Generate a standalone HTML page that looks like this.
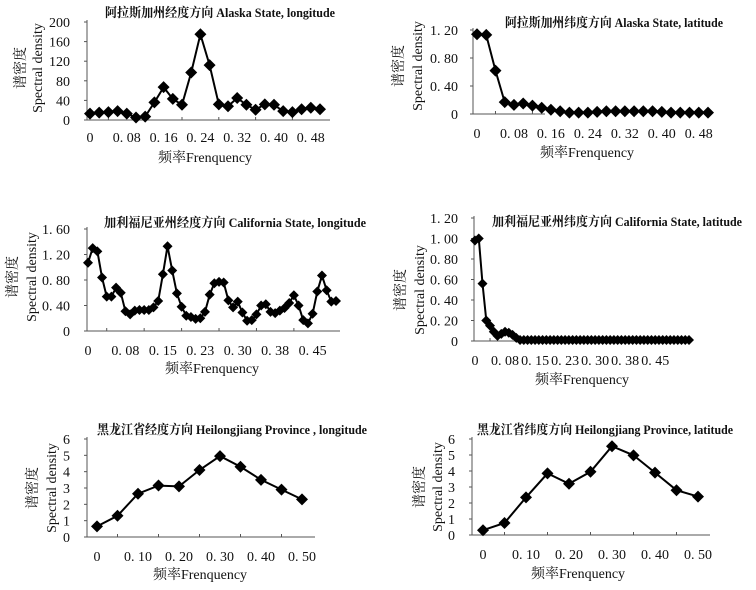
<!DOCTYPE html>
<html><head><meta charset="utf-8">
<style>
html,body{margin:0;padding:0;background:#fff;}
svg{display:block;}
text{fill:#111;}
.tk{font-family:"Liberation Serif","Noto Serif CJK SC",serif;font-size:14px;}
.tt{font-family:"Liberation Serif","Noto Serif CJK SC",serif;font-size:13px;font-weight:bold;}
.ax{font-family:"Liberation Serif","Noto Serif CJK SC",serif;font-size:14px;}
</style></head>
<body>
<svg id="chart" width="756" height="590" viewBox="0 0 756 590" xmlns="http://www.w3.org/2000/svg"></svg>
<script>
// ---- data ----
const alaskaLonValues = [13,15,16,18,13,5,7,36,67,43,31,97,175,112,32,28,45,31,21,32,31,18,16,22,25,22];
const alaskaLonXTicks = ["0","0. 08","0. 16","0. 24","0. 32","0. 40","0. 48"];
const alaskaLonYTicks = ["0","40","80","120","160","200"];

const alaskaLatValues = [1.14,1.13,0.62,0.17,0.13,0.15,0.12,0.09,0.06,0.04,0.02,0.02,0.02,0.03,0.04,0.04,0.04,0.04,0.04,0.04,0.03,0.02,0.02,0.02,0.02,0.02];
const alaskaLatXTicks = ["0","0. 08","0. 16","0. 24","0. 32","0. 40","0. 48"];
const alaskaLatYTicks = ["0","0. 40","0. 80","1. 20"];

const califLonValues = [1.07,1.30,1.25,0.84,0.54,0.54,0.68,0.60,0.31,0.26,0.32,0.33,0.33,0.33,0.37,0.47,0.89,1.33,0.95,0.59,0.38,0.24,0.22,0.19,0.20,0.30,0.57,0.75,0.77,0.76,0.48,0.37,0.46,0.29,0.16,0.17,0.26,0.40,0.42,0.30,0.28,0.32,0.36,0.44,0.56,0.40,0.17,0.12,0.27,0.62,0.87,0.64,0.46,0.47];
const califLonXTicks = ["0","0. 08","0. 15","0. 23","0. 30","0. 38","0. 45"];
const califLonYTicks = ["0","0. 40","0. 80","1. 20","1. 60"];

const califLatValues = [0.98,1.00,0.56,0.20,0.15,0.09,0.05,0.07,0.09,0.08,0.06,0.03,0.01,0.01,0.01,0.01,0.01,0.01,0.01,0.01,0.01,0.01,0.01,0.01,0.01,0.01,0.01,0.01,0.01,0.01,0.01,0.01,0.01,0.01,0.01,0.01,0.01,0.01,0.01,0.01,0.01,0.01,0.01,0.01,0.01,0.01,0.01,0.01,0.01,0.01,0.01,0.01,0.01,0.01,0.01,0.01,0.01,0.01];
const califLatXTicks = ["0","0. 08","0. 15","0. 23","0. 30","0. 38","0. 45"];
const califLatYTicks = ["0","0. 20","0. 40","0. 60","0. 80","1. 00","1. 20"];

const heiLonValues = [0.65,1.3,2.65,3.15,3.1,4.1,4.95,4.3,3.5,2.9,2.3];
const heiLonXTicks = ["0","0. 10","0. 20","0. 30","0. 40","0. 50"];
const heiLonYTicks = ["0","1","2","3","4","5","6"];

const heiLatValues = [0.3,0.75,2.35,3.85,3.2,3.95,5.55,4.98,3.9,2.8,2.4];
const heiLatXTicks = ["0","0. 10","0. 20","0. 30","0. 40","0. 50"];
const heiLatYTicks = ["0","1","2","3","4","5","6"];

const NS = "http://www.w3.org/2000/svg";
const svg = document.getElementById('chart');
function mk(tag, attrs, parent){
  const e = document.createElementNS(NS, tag);
  for (const k in attrs) e.setAttribute(k, attrs[k]);
  (parent||svg).appendChild(e);
  return e;
}

function panel(id, title, values, xTicks, yTicks, yMax, tickEvery, L){
  const g = mk('g', {});
  
  
  const n = values.length;
  const xScale = i => L.x0 + (L.x1 - L.x0) * i / (n - 1);
  const yScale = v => L.yb - (L.yb - L.yt) * v / yMax;

  const t = mk('text', {x: L.tx, y: L.ty, 'text-anchor': 'middle', class: 'tt'}, g);
  if (L.tw) { t.setAttribute('textLength', L.tw); t.setAttribute('lengthAdjust', 'spacingAndGlyphs'); }
  t.textContent = title;
  
  

  const ya = mk('line', {x1: L.ax, y1: L.yt - 2, x2: L.ax, y2: L.yb, stroke: '#555', 'stroke-width': 1}, g);
  
  
  const xa = mk('line', {x1: L.ax, y1: L.yb, x2: L.axEnd, y2: L.yb, stroke: '#555', 'stroke-width': 1}, g);
  
  

  yTicks.forEach((lab, k) => {
    const v = yMax * k / (yTicks.length - 1);
    const y = yScale(v);
    mk('line', {x1: L.ax - 3, y1: y, x2: L.ax, y2: y, stroke: '#555'}, g);
    const tx = mk('text', {x: L.ylx, y: y + 5, 'text-anchor': 'end', class: 'tk'}, g);
    tx.textContent = lab;
    
    
  });

  xTicks.forEach((lab, k) => {
    const x = xScale(k * tickEvery);
    const tx = mk('text', {x: x, y: L.xly, 'text-anchor': 'middle', class: 'tk'}, g);
    tx.textContent = lab;
    
    
    if (k > 0) {
      const xm = xScale(k * tickEvery - tickEvery / 2);
      mk('line', {x1: xm, y1: L.yb - 3, x2: xm, y2: L.yb, stroke: '#555'}, g);
    }
  });

  const xt = mk('text', {x: L.xtx, y: L.xty, 'text-anchor': 'middle', class: 'ax'}, g);
  xt.textContent = '频率Frenquency';
  
  
  const yt1 = mk('text', {x: 0, y: 0, 'text-anchor': 'middle', class: 'ax', transform: `translate(${L.yc1},${L.ycy}) rotate(-90)`}, g);
  yt1.textContent = '谱密度';
  
  
  const yt2 = mk('text', {x: 0, y: 0, 'text-anchor': 'middle', class: 'ax', transform: `translate(${L.yc2},${L.ycy}) rotate(-90)`}, g);
  yt2.textContent = 'Spectral density';
  
  

  const pts = values.map((v, i) => xScale(i).toFixed(1) + ',' + yScale(v).toFixed(1)).join(' ');
  const pl = mk('polyline', {points: pts, fill: 'none', stroke: '#000', 'stroke-width': 2}, g);
  
  
  const r = L.r;
  values.forEach((v, i) => {
    const x = xScale(i), y = yScale(v);
    const d = mk('polygon', {points: `${x},${y - r} ${x + r},${y} ${x},${y + r} ${x - r},${y}`, fill: '#000'}, g);
    
    
  });
}

panel('alaska-longitude', '阿拉斯加州经度方向 Alaska State, longitude', alaskaLonValues, alaskaLonXTicks, alaskaLonYTicks, 200, 4,
  {x0: 90, x1: 320, yb: 120, yt: 22, ax: 87, axEnd: 330, ylx: 70, xly: 142, tx: 220, ty: 17, tw: 230, xtx: 205, xty: 162, yc1: 25, yc2: 42, ycy: 68, r: 6});
panel('alaska-latitude', '阿拉斯加州纬度方向 Alaska State, latitude', alaskaLatValues, alaskaLatXTicks, alaskaLatYTicks, 1.2, 4,
  {x0: 477, x1: 708, yb: 114, yt: 30, ax: 473, axEnd: 545, ylx: 458, xly: 138, tx: 614, ty: 27, tw: 218, xtx: 587, xty: 157, yc1: 403, yc2: 422, ycy: 66, r: 6});
panel('california-longitude', '加利福尼亚州经度方向 California State, longitude', califLonValues, califLonXTicks, califLonYTicks, 1.6, 8,
  {x0: 88, x1: 336, yb: 331, yt: 229, ax: 87, axEnd: 340, ylx: 70, xly: 355, tx: 235, ty: 227, tw: 262, xtx: 212, xty: 373, yc1: 17, yc2: 36, ycy: 277, r: 5});
panel('california-latitude', '加利福尼亚州纬度方向 California State, latitude', califLatValues, califLatXTicks, califLatYTicks, 1.2, 8,
  {x0: 475, x1: 689, yb: 341, yt: 218, ax: 474, axEnd: 692, ylx: 458, xly: 365, tx: 617, ty: 226, tw: 250, xtx: 582, xty: 384, yc1: 405, yc2: 424, ycy: 290, r: 5});
panel('heilongjiang-longitude', '黑龙江省经度方向 Heilongjiang Province , longitude', heiLonValues, heiLonXTicks, heiLonYTicks, 6, 2,
  {x0: 97, x1: 302, yb: 537, yt: 439, ax: 87, axEnd: 315, ylx: 70, xly: 561, tx: 232, ty: 434, tw: 270, xtx: 200, xty: 579, yc1: 37, yc2: 56, ycy: 488, r: 6});
panel('heilongjiang-latitude', '黑龙江省纬度方向 Heilongjiang Province, latitude', heiLatValues, heiLatXTicks, heiLatYTicks, 6, 2,
  {x0: 483, x1: 698, yb: 535, yt: 439, ax: 472, axEnd: 710, ylx: 455, xly: 559, tx: 605, ty: 434, tw: 256, xtx: 578, xty: 578, yc1: 424, yc2: 442, ycy: 487, r: 6});
</script>
</body></html>
